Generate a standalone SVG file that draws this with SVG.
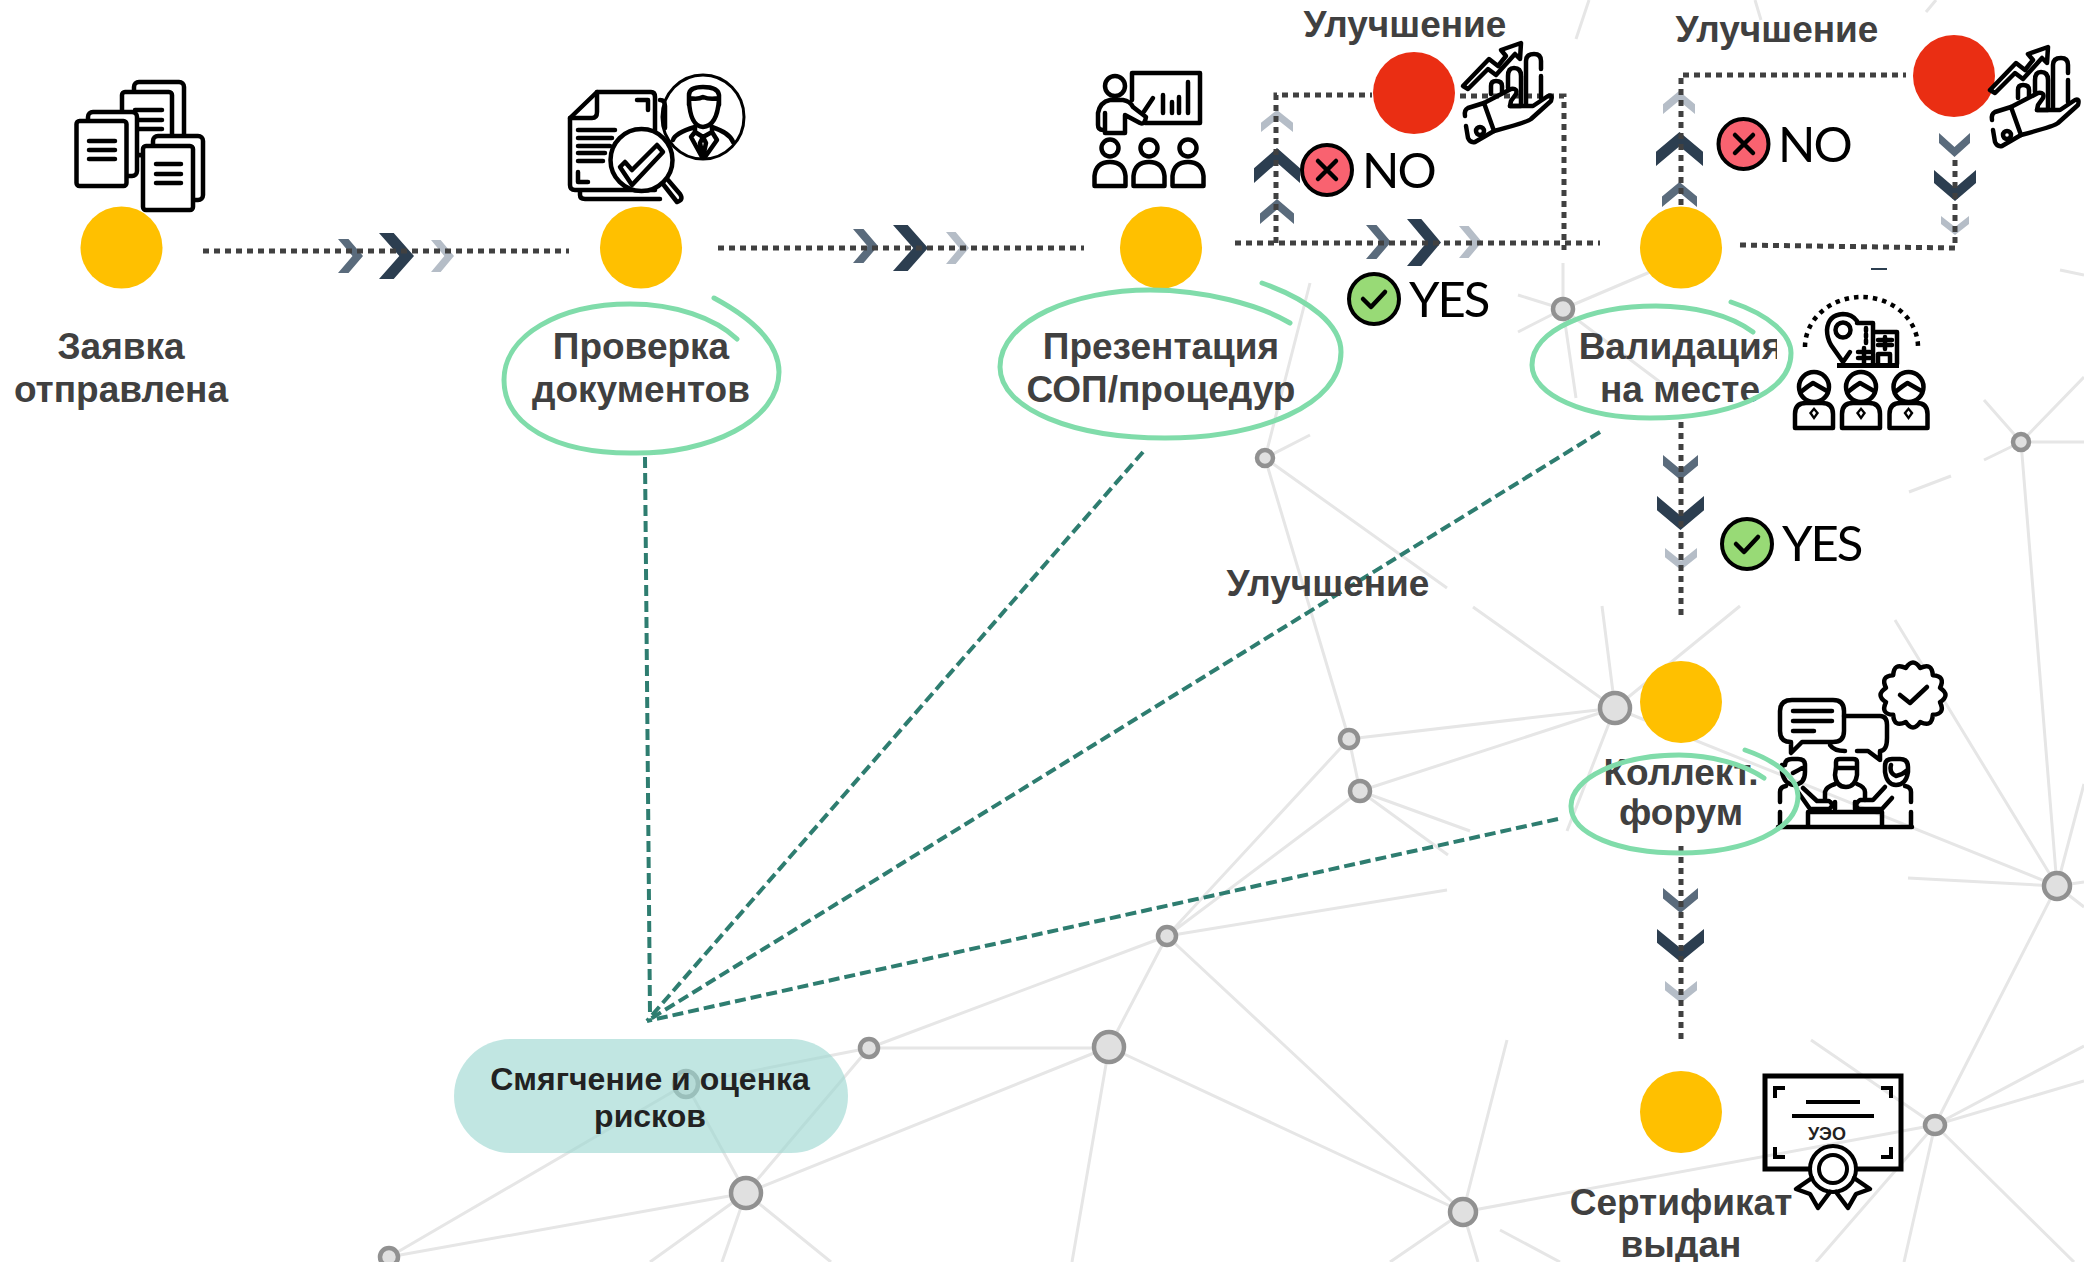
<svg xmlns="http://www.w3.org/2000/svg" width="2084" height="1262" viewBox="0 0 2084 1262">
<style>
.lbl{font-family:"Liberation Sans",Arial,sans-serif;font-weight:700;font-size:37px;fill:#404040;text-anchor:middle}
.risk{font-family:"Liberation Sans",Arial,sans-serif;font-weight:700;font-size:32px;fill:#222;text-anchor:middle}
.yn{font-family:Lato,"Open Sans",sans-serif;font-size:49px;letter-spacing:-2px;fill:#000;text-anchor:start}
.net{fill:none;stroke:#e6e6e6;stroke-width:3}
.nd{fill:#e0e0e0;stroke:#919191;stroke-width:4.5}
.yel{fill:#ffc000}.red{fill:#ea2e13}
.dot{fill:none;stroke:#404040;stroke-width:5;stroke-dasharray:6 5}
.risk-l{fill:none;stroke:#2e7d70;stroke-width:4;stroke-dasharray:11 5}
.ring{fill:none;stroke:#80dcaa;stroke-width:5;stroke-linecap:round}
.ic{fill:none;stroke:#000;stroke-width:4.5;stroke-linecap:round;stroke-linejoin:round}
.icw{fill:#fff;stroke:#000;stroke-width:4.5;stroke-linecap:round;stroke-linejoin:round}
.d{fill:#2c3e50}.m{fill:#5a6b7c}.l{fill:#b5bdc7}
</style>
<defs>
<path id="chev" d="M0 0H.42L1 .5 .42 1H0L.58 .5Z"/>
<g id="improve">
<path class="ic" d="M1990 90L2016 63L2025 70L2033 60L2028 54L2048 47L2047 63L2042 58L2023 79L2015 73L1995 93Z"/>
<path class="ic" d="M2018 98V90Q2018 85 2023 85Q2029 85 2029 90V96M2035 92V80Q2035 72 2041 72Q2048 72 2048 80V110H2037M2053 108V65Q2053 58 2061 58Q2068 58 2068 65V73M2068 80V102"/>
<path class="ic" d="M1992 120Q1991 114 1995 112L2011 107L2021 135L2002 146Q1997 147 1995 142L1993 130"/>
<path class="ic" d="M2011 107L2038 93Q2045 92 2043 98L2038 105L2037 110H2060L2075 100Q2080 98 2078 105L2058 123Q2055 126 2021 135"/>
<circle class="ic" cx="2007" cy="135" r="4" stroke-width="3.500"/>
</g>
<g id="emp">
<ellipse class="ic" cx="0" cy="15" rx="15" ry="15" stroke-width="5"/>
<path class="ic" d="M-12 19Q-6 14-1 11Q6 15 13 19" stroke-width="3.500"/>
<path class="ic" stroke-width="5" d="M-19 56V42Q-19 31-8 31H8Q19 31 19 42V56Z"/>
<path d="M0 35L-5 41L0 48L5 41Z" fill="#000"/><path d="M0 38.500L-2 41L0 44L2 41Z" fill="#fff"/>
</g>
<g id="aud">
<circle class="ic" cx="0" cy="0" r="8.500"/>
<path class="ic" d="M-15.500 38V28Q-14 14 0 14Q14 14 15.500 28V38Z"/>
</g>
</defs>

<rect width="2084" height="1262" fill="#fff"/>

<g id="network">
<path class="net" d="M1589 0L1576 39M1755 0L1761 20M1936 0L1926 12
M1265 458L1310 283M1265 458L1310 435M1265 458L1447 588M1473 607L1615 708M1265 458L1349 739
M1563 309V263M1563 309L1518 295M1563 309L1518 332M1563 309L1650 272M1563 309L1576 398M1563 309L1660 382
M2021 442L1984 400M2021 442L1984 460M2021 442L2084 377M2021 442H2084M2021 442L2057 886M1951 476L1909 492M2060 270L2084 275
M1615 708L1602 606M1615 708L1740 606M1615 708L1349 739M1615 708L1360 791M1615 708L1567 831M1615 708L2057 886
M1349 739L1360 791M1349 739L1167 936M1360 791L1167 936M1360 791L1470 831M1360 791L1448 855
M1167 936L1447 890M1167 936L869 1048M1167 936L1109 1047M1167 936L1463 1212
M869 1048H1109M869 1048L686 1084M869 1048L746 1193M686 1084L746 1193M686 1084L389 1257
M1109 1047L746 1193M1109 1047L1072 1262M1109 1047L1463 1212M746 1193L389 1257M746 1193L650 1262M746 1193L722 1262M746 1193L831 1262
M1463 1212L1507 1040M1463 1212L1935 1125M1463 1212L1478 1262M1463 1212L1390 1262M1500 1230L1560 1262
M1935 1125L1811 1040M1935 1125L2057 886M1935 1125L2084 1046M1935 1125L2084 1081M1935 1125L2074 1262M1935 1125L1904 1262M1935 1125L1816 1262
M2057 886L1908 878M2057 886L1895 620M2057 886L2084 784M2057 886L2084 882M2057 886L2084 907"/>
<ellipse class="nd" cx="1265" cy="458" rx="8" ry="8"/>
<ellipse class="nd" cx="1563" cy="309" rx="10" ry="10"/>
<ellipse class="nd" cx="2021" cy="442" rx="8" ry="8"/>
<ellipse class="nd" cx="1615" cy="708" rx="15" ry="15"/>
<ellipse class="nd" cx="1349" cy="739" rx="9" ry="9"/>
<ellipse class="nd" cx="1360" cy="791" rx="10" ry="10"/>
<ellipse class="nd" cx="2057" cy="886" rx="13" ry="13"/>
<ellipse class="nd" cx="1167" cy="936" rx="9" ry="9"/>
<ellipse class="nd" cx="869" cy="1048" rx="9" ry="9"/>
<ellipse class="nd" cx="1109" cy="1047" rx="15" ry="15"/>
<ellipse class="nd" cx="746" cy="1193" rx="15" ry="15"/>
<ellipse class="nd" cx="389" cy="1257" rx="9" ry="9"/>
<ellipse class="nd" cx="1463" cy="1212" rx="13" ry="13"/>
<ellipse class="nd" cx="1935" cy="1125" rx="10" ry="9"/>
<ellipse class="nd" cx="686" cy="1084" rx="12" ry="13"/>
</g>

<g id="connectors">
<use href="#chev" class="m" transform="matrix(25 0 0 34 338 239)"/>
<use href="#chev" class="d" transform="matrix(35 0 0 46 379 233)"/>
<use href="#chev" class="l" transform="matrix(23 0 0 32 431 240)"/>
<use href="#chev" class="m" transform="matrix(25 0 0 34 853 229)"/>
<use href="#chev" class="d" transform="matrix(35 0 0 46 893 225)"/>
<use href="#chev" class="l" transform="matrix(23 0 0 32 946 232)"/>
<use href="#chev" class="m" transform="matrix(25 0 0 34 1366 225)"/>
<use href="#chev" class="d" transform="matrix(34 0 0 47 1407 219)"/>
<use href="#chev" class="l" transform="matrix(23 0 0 32 1459 226)"/>
<use href="#chev" class="l" transform="matrix(0 -22 32 0 1261 132)"/>
<use href="#chev" class="d" transform="matrix(0 -35 46 0 1254 183)"/>
<use href="#chev" class="m" transform="matrix(0 -25 34 0 1260 224)"/>
<use href="#chev" class="l" transform="matrix(0 -23 32 0 1663 114)"/>
<use href="#chev" class="d" transform="matrix(0 -34 47 0 1656 166)"/>
<use href="#chev" class="m" transform="matrix(0 -25 35 0 1662 207)"/>
<use href="#chev" class="m" transform="matrix(0 24 31 0 1939 133)"/>
<use href="#chev" class="d" transform="matrix(0 31 42 0 1934 170)"/>
<use href="#chev" class="l" transform="matrix(0 19 28 0 1941 216)"/>
<use href="#chev" class="m" transform="matrix(0 25 35 0 1663 455)"/>
<use href="#chev" class="d" transform="matrix(0 34 47 0 1657 496)"/>
<use href="#chev" class="l" transform="matrix(0 22 32 0 1665 548)"/>
<use href="#chev" class="m" transform="matrix(0 25 35 0 1663 888)"/>
<use href="#chev" class="d" transform="matrix(0 33 47 0 1657 929)"/>
<use href="#chev" class="l" transform="matrix(0 22 32 0 1665 981)"/>
<path class="dot" d="M203 251H569"/>
<path class="dot" d="M718 248H1084"/>
<path class="dot" d="M1235 243H1600"/>
<path class="dot" d="M1276 243V95H1372"/>
<path class="dot" d="M1460 96H1564V250"/>
<path class="dot" d="M1681 205V75H1906"/>
<path class="dot" d="M1740 245L1955 248V160"/>
<path class="dot" d="M1681 422V618"/>
<path class="dot" d="M1681 846V1042"/>
<path class="risk-l" d="M645 457L650 1015"/>
<path class="risk-l" d="M1143 452L647 1021"/>
<path class="risk-l" d="M1600 432L647 1021"/>
<path class="risk-l" d="M1558 819L647 1021"/>
<path d="M1871 269H1887" stroke="#2c3e50" stroke-width="2" fill="none"/>
</g>

<g id="n-submitted">
<circle class="yel" cx="121.500" cy="247.500" r="41"/>
<text class="lbl" x="121" y="359">Заявка</text>
<text class="lbl" x="121" y="402">отправлена</text>
<g>
<rect class="icw" x="134" y="82" width="50" height="73" rx="5"/>
<rect class="icw" x="122" y="92" width="50" height="63" rx="3"/>
<path class="ic" d="M135 110H162M135 120H162M135 129H162"/>
<rect class="icw" x="88" y="112" width="49" height="64" rx="5"/>
<rect class="icw" x="76.500" y="121" width="50" height="65" rx="3"/>
<path class="ic" d="M89 141H115M89 150H115M89 159H115"/>
<rect class="icw" x="153" y="136" width="50" height="64" rx="5"/>
<rect class="icw" x="143" y="146" width="50" height="64" rx="3"/>
<path class="ic" d="M156 164H181M156 174H181M156 183H181"/>
</g>
</g>

<g id="n-docs">
<circle class="yel" cx="641" cy="247.500" r="41"/>
<text class="lbl" x="641" y="359">Проверка</text>
<text class="lbl" x="641" y="402">документов</text>
<path class="ring" d="M714 298C755 320 779 345 779 372C779 420 710 455 630 453C555 453 504 425 504 380C504 335 560 304 630 304C675 304 715 318 737 339"/>
<g>
<ellipse cx="703" cy="117" rx="41" ry="42" fill="#fff" stroke="#000" stroke-width="3"/>
<path class="ic" stroke-width="3" d="M689 105V95Q689 87 703 87Q718 87 719 95V105M689 98Q698 100 703 97Q710 100 719 98M689 100Q690 126 703 127Q717 126 719 100M673 140Q675 133 695 127V132L703 137L712 132V127Q730 133 733 142M695 132L691 137L702 157M712 132L717 140L705 157M703 137L700 143L703 157L706 143Z"/>
<path class="ic" d="M660 100Q665 100 665 106V128M580 190V195Q580 199 585 199H660"/>
<path class="icw" d="M597 92H651Q655 92 655 97V190H575Q570 190 570 185V118Z"/>
<path class="ic" d="M597 92V112Q597 118 592 118H570M637 100H648V110M578 172V182H588"/>
<path class="ic" d="M578 130H615M578 138H612M578 146H610M578 153H605M578 161H603"/>
<circle class="icw" cx="641.500" cy="160" r="31"/>
<path class="ic" d="M663 184L677 202Q684 200 680 194L668 180"/>
<path class="ic" d="M620 167L625 162L632 170L657 145L663 152L632 185Z"/>
</g>
</g>

<g id="n-present">
<circle class="yel" cx="1161" cy="247.500" r="41"/>
<text class="lbl" x="1161" y="359">Презентация</text>
<text class="lbl" x="1161" y="402">СОП/процедур</text>
<path class="ring" d="M1262 283C1310 300 1341 325 1341 352C1341 405 1260 438 1165 438C1075 438 1000 410 1000 367C1000 320 1075 290 1150 290C1205 290 1260 305 1290 323"/>
<g>
<path class="ic" d="M1132 100V73H1200V123H1145"/>
<path class="ic" d="M1163 95V113M1172 102V113M1179 97V113M1188 82V113" stroke-width="3.500"/>
<circle class="ic" cx="1115" cy="86" r="10"/>
<path class="ic" d="M1133 107Q1130 101 1123 100H1110Q1100 102 1098 113V125Q1098 130 1103 130M1105 113V133H1125V115L1140 123Q1145 125 1146 117L1133 107M1143 113L1153 98"/>
<use href="#aud" x="1110" y="148"/>
<use href="#aud" x="1149" y="148"/>
<use href="#aud" x="1188" y="148"/>
</g>
</g>

<g id="n-site">
<circle class="yel" cx="1681" cy="247.500" r="41"/>
<text class="lbl" x="1681" y="359">Валидация</text>
<text class="lbl" x="1680" y="402">на месте</text>
<rect x="1777" y="325" width="12" height="40" fill="#fff"/>
<path class="ring" stroke-width="4" d="M1731 302C1770 315 1791 335 1791 353C1791 395 1725 418 1650 418C1585 418 1532 395 1532 365C1532 330 1590 306 1656 306C1695 306 1730 315 1753 332"/>
<g>
<path fill="none" stroke="#000" stroke-width="4.500" stroke-dasharray="4.500 5" d="M1805 347A56.500 50 0 0 1 1918 347"/>
<path class="ic" stroke-width="5" d="M1843 362L1831 345Q1827 338 1827 330Q1828 315 1843 314Q1852 314 1857 321M1850 352L1843 362"/>
<circle class="ic" cx="1843" cy="330" r="7.500"/>
<path class="ic" d="M1857 323H1873V364M1873 332H1897V364M1878 364V354H1890V364"/>
<path d="M1837 363H1899V368H1837Z" fill="#000"/>
<path class="ic" stroke-width="3" d="M1866 328V346" stroke-dasharray="3 3"/>
<path class="ic" stroke-width="3" d="M1858 352H1870M1858 358H1870M1864 348V363M1878 340H1892M1878 345H1892M1885 337V349"/>
<use href="#emp" x="1814" y="372"/>
<use href="#emp" x="1861" y="372"/>
<use href="#emp" x="1908.500" y="372"/>
</g>
</g>

<g id="n-forum">
<circle class="yel" cx="1681" cy="702" r="41"/>
<text class="lbl" x="1681" y="785">Коллект.</text>
<text class="lbl" x="1681" y="825">форум</text>
<g>
<path class="ic" d="M1792 700H1833Q1844 700 1844 711V731Q1844 742 1833 742H1802L1791 753V742Q1780 742 1780 731V711Q1780 700 1792 700Z"/>
<path class="ic" d="M1793 711H1832M1793 721H1832M1793 731H1814"/>
<path class="ic" d="M1844 716H1880Q1887 716 1887 725V738Q1887 751 1880 751V760L1868 751H1857M1845 751Q1834 751 1830 745"/>
<path class="icw" stroke-width="5" transform="translate(1913 695)" d="M27 -7.200Q38 0 27 7.200Q32.900 19 19.800 19.800Q19 32.900 7.200 27Q0 38 -7.200 27Q-19 32.900 -19.800 19.800Q-32.900 19 -27 7.200Q-38 0 -27 -7.200Q-32.900 -19 -19.800 -19.800Q-19 -32.900 -7.200 -27Q0 -38 7.200 -27Q19 -32.900 19.800 -19.800Q32.900 -19 27 -7.200Z"/>
<path class="ic" stroke-width="5" d="M1900 695L1910 703L1927 687"/>
<path class="ic" d="M1785 765Q1785 759 1792 759H1798Q1805 759 1805 765V772Q1805 784 1794 785Q1784 784 1782 772V765ZM1793 773Q1799 770 1802 768"/>
<path class="ic" d="M1836 767V762Q1836 759 1840 759H1853Q1857 759 1857 762V775Q1855 787 1846 787Q1836 787 1835 775ZM1836 768H1857"/>
<path class="ic" d="M1885 772V766Q1885 759 1892 759H1900Q1908 759 1908 767V772Q1906 785 1896 785Q1887 785 1885 772ZM1891 765Q1889 773 1896 776Q1902 775 1906 771"/>
<path class="ic" d="M1780 802V792Q1780 787 1786 786M1780 812V825M1803 788L1817 801H1829Q1835 805 1829 809H1810L1798 792"/>
<path class="ic" d="M1825 800V792Q1826 787 1835 784M1865 800V792Q1865 787 1857 784M1835 802V809M1855 802V809"/>
<path class="ic" d="M1911 802V792Q1911 787 1905 786M1911 812V825M1885 787L1873 800H1860Q1853 805 1859 809H1882L1892 798"/>
<path class="ic" d="M1778 827H1912M1808 812H1882M1808 812V827M1882 812V827"/>
</g>
<path class="ring" stroke-width="3.500" d="M1745 750C1780 762 1798 780 1798 796C1798 830 1745 853 1680 853C1620 853 1571 835 1571 806C1571 778 1620 755 1679 755C1712 755 1745 765 1764 778"/>
</g>

<g id="n-cert">
<circle class="yel" cx="1681" cy="1112" r="41"/>
<text class="lbl" x="1681" y="1215">Сертификат</text>
<text class="lbl" x="1681" y="1257">выдан</text>
<g>
<rect x="1765" y="1076" width="136" height="93" fill="none" stroke="#000" stroke-width="5"/>
<path fill="none" stroke="#000" stroke-width="4" d="M1785 1088H1775V1098M1881 1088H1891V1098M1775 1147V1157H1785M1891 1147V1157H1881"/>
<path fill="none" stroke="#000" stroke-width="4" d="M1806 1102H1860M1792 1116H1874"/>
<text x="1827" y="1140" font-family="'Liberation Sans',Arial,sans-serif" font-weight="700" font-size="18" fill="#222" text-anchor="middle">УЭО</text>
<circle cx="1833" cy="1169" r="23" fill="#fff" stroke="#000" stroke-width="4"/>
<circle cx="1833" cy="1169" r="14" fill="#fff" stroke="#000" stroke-width="4"/>
<path class="ic" d="M1812 1178L1796 1189L1810 1194L1818 1208L1830 1192M1854 1178L1870 1189L1856 1194L1848 1208L1836 1192"/>
</g>
</g>

<g id="n-improve-1">
<circle class="red" cx="1414" cy="93" r="41"/>
<text class="lbl" x="1405" y="37">Улучшение</text>
<use href="#improve" transform="translate(-527,-4)"/>
</g>
<g id="n-improve-2">
<circle class="red" cx="1954" cy="76" r="41"/>
<text class="lbl" x="1777" y="42">Улучшение</text>
<use href="#improve"/>
</g>

<g id="n-risk">
<rect x="454" y="1039" width="394" height="114" rx="57" fill="#9fd8d3" fill-opacity=".65"/>
<text class="risk" x="650" y="1090">Смягчение и оценка</text>
<text class="risk" x="650" y="1127">рисков</text>
</g>

<text class="lbl" x="1328" y="596">Улучшение</text>

<g id="d-no-1">
<circle cx="1327" cy="170" r="25" fill="#f96270" stroke="#000" stroke-width="4"/>
<path class="ic" d="M1318 161L1336 179M1336 161L1318 179"/>
<text class="yn" x="1362" y="188">NO</text>
</g>
<g id="d-yes-1">
<circle cx="1374" cy="299" r="25" fill="#98da76" stroke="#000" stroke-width="4"/>
<path class="ic" d="M1363 299L1371 307L1385 292"/>
<text class="yn" x="1409" y="317">YES</text>
</g>
<g id="d-no-2">
<circle cx="1743.500" cy="144" r="25" fill="#f96270" stroke="#000" stroke-width="4"/>
<path class="ic" d="M1735 135L1753 153M1753 135L1735 153"/>
<text class="yn" x="1778" y="162">NO</text>
</g>
<g id="d-yes-2">
<circle cx="1747" cy="544" r="25" fill="#98da76" stroke="#000" stroke-width="4"/>
<path class="ic" d="M1736 544L1744 552L1758 537"/>
<text class="yn" x="1782" y="561">YES</text>
</g>
</svg>
